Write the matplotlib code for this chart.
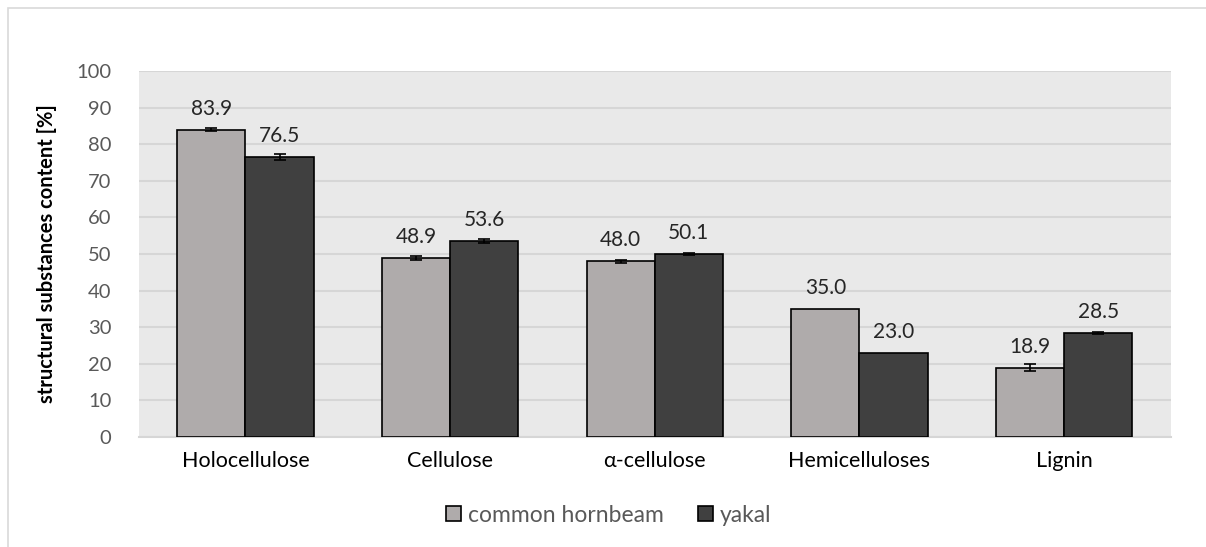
import matplotlib.pyplot as plt
import numpy as np
from matplotlib.patches import Rectangle

categories = ["Holocellulose", "Cellulose", "α-cellulose", "Hemicelluloses", "Lignin"]
hornbeam = [83.9, 48.9, 48.0, 35.0, 18.9]
yakal = [76.5, 53.6, 50.1, 23.0, 28.5]
# no visible error bar for hemicelluloses
hornbeam_err = [0.4, 0.6, 0.4, np.nan, 1.0]
yakal_err = [0.7, 0.5, 0.3, np.nan, 0.3]

plt.rcParams['font.family'] = ['Lato', 'DejaVu Sans']

fig = plt.figure(figsize=(12.06, 5.47), dpi=100)
ax = fig.add_axes([0.1153, 0.2011, 0.8557, 0.6691])
ax.set_facecolor("#E9E9E9")

x = np.arange(len(categories))
w = 0.333
errkw = dict(ecolor="black", capsize=4, elinewidth=1.2, capthick=1.2)
ax.bar(x - w/2, hornbeam, w, yerr=hornbeam_err, color="#AFABAB", edgecolor="black",
       linewidth=1.2, label="common hornbeam", error_kw=errkw, zorder=3)
ax.bar(x + w/2, yakal, w, yerr=yakal_err, color="#404040", edgecolor="black",
       linewidth=1.2, label="yakal", error_kw=errkw, zorder=3)

for i in range(len(categories)):
    ax.text(x[i] - w/2, hornbeam[i] + 3, f"{hornbeam[i]:.1f}", ha="center", va="bottom",
            fontsize=15, color="#262626")
    ax.text(x[i] + w/2, yakal[i] + 3, f"{yakal[i]:.1f}", ha="center", va="bottom",
            fontsize=15, color="#262626")

ax.set_xlim(-0.52, len(categories) - 0.477)
ax.set_ylim(0, 100)
ax.set_yticks(range(0, 101, 10))
ax.yaxis.grid(True, color="#D6D6D6", linewidth=1.5, zorder=0)
ax.set_axisbelow(True)
ax.set_xticks(x)
ax.set_xticklabels(categories, fontsize=15.5, color="black")
ax.tick_params(axis="x", length=0, pad=10)
ax.tick_params(axis="y", length=0, labelsize=14.5, labelcolor="#595959", pad=20)
for s in ["top", "right", "left"]:
    ax.spines[s].set_visible(False)
ax.spines["bottom"].set_color("#D6D6D6")
ax.spines["bottom"].set_linewidth(1.5)

ax.set_ylabel("structural substances content [%]", fontsize=14.5, fontweight="bold", labelpad=14)

leg = fig.legend(loc="center", bbox_to_anchor=(0.505, 0.058), ncol=2, frameon=False,
                 fontsize=16.5, handlelength=0.65, handleheight=0.65, handletextpad=0.3,
                 columnspacing=1.5)
for t in leg.get_texts():
    t.set_color("#595959")

fig.patches.append(Rectangle((0.007, -0.01), 1.0, 1.0 - 0.004, transform=fig.transFigure,
                             fill=False, edgecolor="#D9D9D9", linewidth=1.2))

fig.savefig("out.png", dpi=100)
